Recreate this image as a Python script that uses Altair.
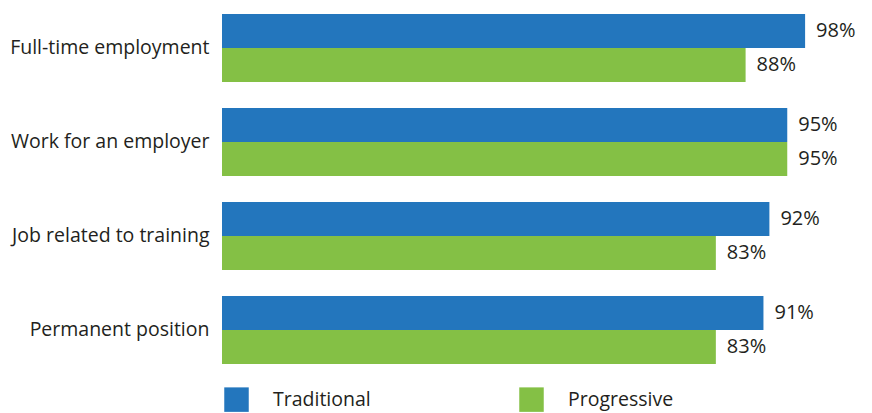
import altair as alt
import pandas as pd

categories = ["Full-time employment", "Work for an employer", "Job related to training", "Permanent position"]
series = ["Traditional", "Progressive"]
traditional = [98, 95, 92, 91]
progressive = [88, 95, 83, 83]
colors = ["#2376BD", "#84C045"]

rows = []
for c, t, p in zip(categories, traditional, progressive):
    rows.append({"category": c, "series": series[0], "value": t, "label": f"{t}%"})
    rows.append({"category": c, "series": series[1], "value": p, "label": f"{p}%"})
df = pd.DataFrame(rows)

FONT = "Open Sans"
TXT = "#231f20"

y_enc = alt.Y("category:N", sort=categories, title=None,
              scale=alt.Scale(paddingInner=0.2766, paddingOuter=0.1383),
              axis=alt.Axis(domain=False, ticks=False, grid=False, labelPadding=13, labelFontSize=19.5,
                            labelFont=FONT, labelColor=TXT, labelLimit=300))
yoff = alt.YOffset("series:N", sort=series, scale=alt.Scale(paddingInner=0, paddingOuter=0))
x_enc = alt.X("value:Q", scale=alt.Scale(domain=[0, 100]), axis=None, title=None)

base = alt.Chart(df)
bars = base.mark_bar(cornerRadius=0).encode(
    y=y_enc, yOffset=yoff, x=x_enc,
    color=alt.Color("series:N", sort=series,
                    scale=alt.Scale(domain=series, range=colors),
                    legend=alt.Legend(title=None, orient="none", legendX=2, legendY=386,
                                      direction="horizontal", symbolType="square",
                                      symbolSize=600, symbolStrokeWidth=0,
                                      labelFontSize=19.5, labelFont=FONT, labelColor=TXT,
                                      labelOffset=24, columnPadding=148)),
)
text = base.mark_text(align="left", baseline="middle", dx=11, fontSize=20,
                      font=FONT, color=TXT).encode(
    y=y_enc, yOffset=yoff, x=x_enc, text="label:N"
)

chart = (bars + text).properties(
    width=595, height=376,
    background="white",
    autosize=alt.AutoSizeParams(type="none"),
    padding={"left": 222, "top": 1, "right": 55, "bottom": 36},
).configure_view(stroke=None, strokeWidth=0)

chart.save("out.html", embed_options={"renderer": "svg", "actions": False})
